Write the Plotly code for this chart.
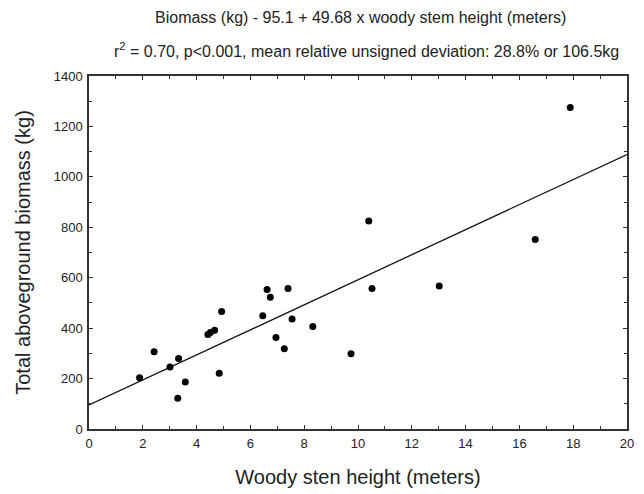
import plotly.graph_objects as go

height_m = [1.88, 2.42, 3.01, 3.33, 3.30, 3.58, 4.42, 4.51, 4.67, 4.84, 4.93,
            6.46, 6.62, 6.74, 6.95, 7.26, 7.40, 7.55, 8.32, 9.74, 10.40, 10.52,
            13.02, 16.59, 17.89]
biomass_kg = [203, 306, 246, 280, 122, 186, 375, 383, 392, 221, 466,
              449, 553, 523, 363, 318, 557, 436, 407, 298, 825, 557,
              567, 752, 1275]
intercept = 95.1
slope = 49.68
line_x = [0, 20]
line_y = [intercept + slope * v for v in line_x]

title1 = "Biomass (kg) - 95.1 + 49.68 x woody stem height (meters)"
title2 = "r<sup>2</sup> = 0.70, p&lt;0.001, mean relative unsigned deviation: 28.8% or 106.5kg"

font = "Liberation Sans, Arial, sans-serif"

fig = go.Figure()
fig.add_trace(go.Scatter(x=line_x, y=line_y, mode="lines",
                         line=dict(color="#111111", width=1.3), showlegend=False))
fig.add_trace(go.Scatter(x=height_m, y=biomass_kg, mode="markers",
                         marker=dict(color="black", size=7), showlegend=False))

axis_common = dict(showgrid=False, zeroline=False, showline=True, mirror="allticks",
                   linecolor="#333333", linewidth=1.5, ticks="inside", ticklen=4,
                   tickcolor="#333333", automargin=False, ticklabelstandoff=2,
                   tickfont=dict(size=13, color="#222222", family=font))

fig.update_xaxes(range=[0, 20], tickvals=list(range(0, 21, 2)),
                 minor=dict(ticks="inside", ticklen=3, dtick=1, tickcolor="#333333"),
                 title=dict(text="Woody sten height (meters)", standoff=20,
                            font=dict(size=20, color="#222222", family=font)),
                 **axis_common)
fig.update_yaxes(range=[0, 1400], tickvals=list(range(0, 1401, 200)),
                 minor=dict(ticks="inside", ticklen=3, dtick=100, tickcolor="#333333"),
                 title=dict(text="Total aboveground biomass (kg)", standoff=18,
                            font=dict(size=20, color="#222222", family=font)),
                 **axis_common)

fig.update_layout(
    width=636, height=486,
    margin=dict(l=81, r=17, t=68, b=65),
    plot_bgcolor="white", paper_bgcolor="white",
    font=dict(family=font),
)
fig.add_annotation(text=title1, xref="paper", yref="paper", x=0.505, y=1.0, yshift=69,
                   showarrow=False, font=dict(size=16, color="#222222", family=font))
fig.add_annotation(text=title2, xref="paper", yref="paper", x=0.515, y=1.0, yshift=38,
                   showarrow=False, font=dict(size=16, color="#222222", family=font))

fig.write_html("out.html")
